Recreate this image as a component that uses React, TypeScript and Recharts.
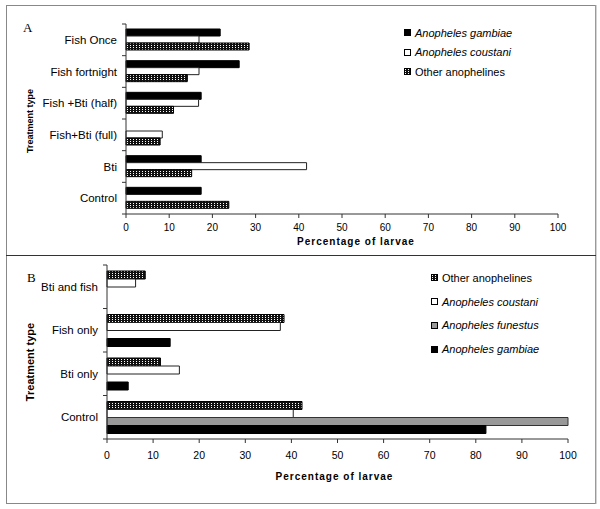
import { BarChart, Bar, XAxis, YAxis, Legend, Label } from "recharts";

const treatmentsA = ["Fish Once", "Fish fortnight", "Fish +Bti (half)", "Fish+Bti (full)", "Bti", "Control"];
const gambiaeA = [21.8, 26.2, 17.4, 0, 17.4, 17.4];
const coustaniA = [16.9, 16.9, 16.8, 8.4, 41.8, 0];
const othersA = [28.5, 14.2, 11.0, 7.9, 15.2, 23.8];

const treatmentsB = ["Bti and fish", "Fish only", "Bti only", "Control"];
const othersB = [8.3, 38.4, 11.6, 42.3];
const coustaniB = [6.2, 37.6, 15.7, 40.4];
const funestusB = [0, 0, 0, 100];
const gambiaeB = [0, 13.7, 4.6, 82.2];

const pctTicks = [0, 10, 20, 30, 40, 50, 60, 70, 80, 90, 100];

const legendOrderA = ["Anopheles gambiae", "Anopheles coustani", "Other anophelines"];
const legendOrderB = ["Other anophelines", "Anopheles coustani", "Anopheles funestus", "Anopheles gambiae"];

const dataA = treatmentsA.map((name, i) => ({
  name,
  gambiae: gambiaeA[i],
  coustani: coustaniA[i],
  others: othersA[i],
}));

const dataB = treatmentsB.map((name, i) => ({
  name,
  others: othersB[i],
  coustani: coustaniB[i],
  funestus: funestusB[i],
  gambiae: gambiaeB[i],
}));

const AXIS = "#333";
const FONT = '"Liberation Sans", Arial, sans-serif';

function CategoryTick(props: any) {
  const { y, payload, index, axisX, n, plotH, fontSize } = props;
  const half = payload && payload.offset ? payload.offset : plotH / n / 2;
  return (
    <g>
      <text x={axisX - 9} y={y} dy="0.35em" textAnchor="end" fontSize={fontSize} fill="#000" fontFamily={FONT}>
        {payload.value}
      </text>
      <line x1={axisX - 4} x2={axisX} y1={y - half} y2={y - half} stroke={AXIS} />
      {index === n - 1 && <line x1={axisX - 4} x2={axisX} y1={y + half} y2={y + half} stroke={AXIS} />}
    </g>
  );
}

const legendContent = (order: string[], rowH: number, gap: number) => (props: any) => {
  const items = order
    .map((name) => (props.payload || []).find((e: any) => e.value === name))
    .filter(Boolean);
  return (
    <div style={{ fontFamily: FONT, fontSize: 11, color: "#000" }}>
      {items.map((entry: any) => (
        <div key={entry.value} style={{ display: "flex", alignItems: "center", height: rowH, whiteSpace: "nowrap" }}>
          <svg width={7} height={7} style={{ marginRight: gap, flex: "none" }}>
            <rect x={0.5} y={0.5} width={6} height={6} fill={entry.color} stroke="#000" />
          </svg>
          <span style={{ fontStyle: String(entry.value).startsWith("Anopheles") ? "italic" : "normal" }}>{entry.value}</span>
        </div>
      ))}
    </div>
  );
};

function Pattern({ id }: { id: string }) {
  return (
    <defs>
      <pattern id={id} width={3} height={2} patternUnits="userSpaceOnUse">
        <rect width={3} height={2} fill="#111" />
        <rect x={1} y={1} width={1} height={1} fill="#fff" />
      </pattern>
    </defs>
  );
}

export default function App() {
  return (
    <div style={{ position: "fixed", left: 0, top: 0, width: 600, height: 509, background: "#fff", fontFamily: FONT }}>
      <div style={{ position: "absolute", left: 23, top: 20, fontFamily: '"Liberation Serif", serif', fontSize: 13 }}>A</div>
      <div style={{ position: "absolute", left: 27, top: 270, fontFamily: '"Liberation Serif", serif', fontSize: 13 }}>B</div>

      <div style={{ position: "absolute", left: 0, top: 0 }}>
        <BarChart width={600} height={254} data={dataA} layout="vertical" barGap={0} margin={{ top: 24, right: 42, bottom: 0, left: 0 }}>
          <Pattern id="patA" />
          <XAxis
            type="number"
            domain={[0, 100]}
            ticks={pctTicks}
            height={40}
            stroke={AXIS}
            tickSize={4}
            tickMargin={6}
            tick={{ fill: "#000", fontSize: 10, fontFamily: FONT }}
          >
            <Label
              content={(p: any) => (
                <text x={p.viewBox.x + p.viewBox.width / 2 + 14} y={p.viewBox.y + p.viewBox.height - 9} textAnchor="middle" fontSize={10} fontWeight="bold" letterSpacing={1} fontFamily={FONT}>
                  Percentage of larvae
                </text>
              )}
            />
          </XAxis>
          <YAxis
            type="category"
            dataKey="name"
            width={126}
            stroke={AXIS}
            tickLine={false}
            tick={(p: any) => <CategoryTick {...p} axisX={126} n={treatmentsA.length} plotH={190} fontSize={11.5} />}
          >
            <Label
              content={(p: any) => {
                const cy = p.viewBox.y + p.viewBox.height / 2 + 2;
                return (
                  <text x={30} y={cy} transform={`rotate(-90 30 ${cy})`} dy="0.35em" textAnchor="middle" fontSize={9} fontWeight="bold" fontFamily={FONT}>
                    Treatment type
                  </text>
                );
              }}
            />
          </YAxis>
          <Legend
            layout="vertical"
            align="center"
            verticalAlign="middle"
            wrapperStyle={{ left: 404, top: 23, width: 185 }}
            content={legendContent(legendOrderA, 19.5, 4)}
          />
          <Bar dataKey="gambiae" name="Anopheles gambiae" fill="#000" stroke="#000" barSize={7} isAnimationActive={false} />
          <Bar dataKey="coustani" name="Anopheles coustani" fill="#fff" stroke="#222" barSize={7} isAnimationActive={false} />
          <Bar dataKey="others" name="Other anophelines" fill="url(#patA)" stroke="#000" barSize={7} isAnimationActive={false} />
        </BarChart>
      </div>

      <div style={{ position: "absolute", left: 0, top: 254 }}>
        <BarChart width={600} height={255} data={dataB} layout="vertical" barGap={0} margin={{ top: 11, right: 32, bottom: 0, left: 0 }}>
          <Pattern id="patB" />
          <XAxis
            type="number"
            domain={[0, 100]}
            ticks={pctTicks}
            height={70}
            stroke={AXIS}
            tickSize={4}
            tickMargin={9}
            tick={{ fill: "#000", fontSize: 10.5, fontFamily: FONT }}
          >
            <Label
              content={(p: any) => (
                <text x={p.viewBox.x + p.viewBox.width / 2 - 3} y={p.viewBox.y + p.viewBox.height - 29} textAnchor="middle" fontSize={10} fontWeight="bold" letterSpacing={1} fontFamily={FONT}>
                  Percentage of larvae
                </text>
              )}
            />
          </XAxis>
          <YAxis
            type="category"
            dataKey="name"
            width={107}
            stroke={AXIS}
            tickLine={false}
            tick={(p: any) => <CategoryTick {...p} axisX={107} n={treatmentsB.length} plotH={174} fontSize={11.5} />}
          >
            <Label
              content={(p: any) => {
                const cy = p.viewBox.y + p.viewBox.height / 2 + 10;
                return (
                  <text x={30} y={cy} transform={`rotate(-90 30 ${cy})`} dy="0.35em" textAnchor="middle" fontSize={11} fontWeight="bold" fontFamily={FONT}>
                    Treatment type
                  </text>
                );
              }}
            />
          </YAxis>
          <Legend
            layout="vertical"
            align="center"
            verticalAlign="middle"
            wrapperStyle={{ left: 431, top: 12, width: 160 }}
            content={legendContent(legendOrderB, 23.8, 4)}
          />
          <Bar dataKey="others" name="Other anophelines" fill="url(#patB)" stroke="#000" barSize={8} isAnimationActive={false} />
          <Bar dataKey="coustani" name="Anopheles coustani" fill="#fff" stroke="#222" barSize={8} isAnimationActive={false} />
          <Bar dataKey="funestus" name="Anopheles funestus" fill="#999" stroke="#333" barSize={8} isAnimationActive={false} />
          <Bar dataKey="gambiae" name="Anopheles gambiae" fill="#000" stroke="#000" barSize={8} isAnimationActive={false} />
        </BarChart>
      </div>

      <svg width={600} height={509} style={{ position: "absolute", left: 0, top: 0, pointerEvents: "none" }}>
        <rect x={6.5} y={5.5} width={589} height={498} fill="none" stroke="#888" />
        <line x1={596} x2={596} y1={5} y2={504} stroke="#aaa" />
        <line x1={6} x2={596} y1={255.5} y2={255.5} stroke="#333" />
      </svg>
    </div>
  );
}
